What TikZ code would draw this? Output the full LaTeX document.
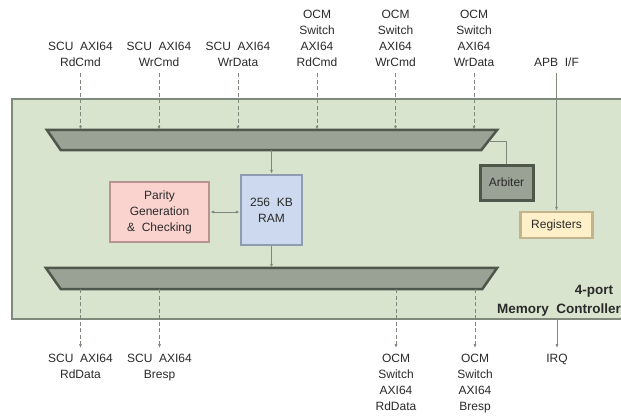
\documentclass[tikz,border=0pt]{standalone}
\usepackage{fontspec}
\setmainfont{Liberation Sans}
\usetikzlibrary{arrows.meta}
\definecolor{bgc}{HTML}{D9E4CF}
\definecolor{bgline}{HTML}{7F8A7C}
\definecolor{busfill}{HTML}{9AA195}
\definecolor{busline}{HTML}{4E574C}
\definecolor{ramfill}{HTML}{CDD9EE}
\definecolor{ramline}{HTML}{8F9AB3}
\definecolor{parfill}{HTML}{FAD3CF}
\definecolor{parline}{HTML}{B79391}
\definecolor{regfill}{HTML}{FFF0C9}
\definecolor{regline}{HTML}{C2B48C}
\definecolor{wire}{HTML}{7F887D}
\definecolor{txt}{HTML}{2A2A2A}
\tikzset{
  lbl/.style={font=\fontsize{12}{16}\selectfont, text=txt, align=center, inner sep=0pt},
  boxtxt/.style={font=\fontsize{12}{16}\selectfont, text=txt, align=center},
  mainbox/.style={draw=bgline, fill=bgc, line width=2.5pt},
  busnode/.style={inner sep=0pt, minimum height=20pt},
  bus/.style={draw=busline, fill=busfill, line width=2.5pt, line join=miter},
  ramstyle/.style={boxtxt, draw=ramline, fill=ramfill, line width=2.5pt, minimum width=61pt, minimum height=70pt},
  parstyle/.style={boxtxt, draw=parline, fill=parfill, line width=2.5pt, minimum width=99pt, minimum height=60pt},
  regstyle/.style={boxtxt, draw=regline, fill=regfill, line width=2.5pt, minimum width=72pt, minimum height=26pt},
  arbstyle/.style={boxtxt, draw=busline, fill=busfill, line width=3pt, minimum width=53pt, minimum height=35pt},
  wirearrow/.style={draw=wire, line width=0.7pt, -{Latex[length=4pt,width=3pt]}},
  dwire/.style={wirearrow, dash pattern=on 4pt off 2.5pt},
  plainwire/.style={draw=wire, line width=0.7pt},
  bold/.style={font=\fontsize{13.5}{16}\selectfont\bfseries, text=txt, inner sep=0pt}
}
\begin{document}
\begin{tikzpicture}[x=1pt,y=-1pt]
\useasboundingbox (0,0) rectangle (621,416);
\fill[white] (0,0) rectangle (621,416);

% main controller box
\node[mainbox, minimum width=620pt, minimum height=220pt] (mc) at (322,209) {};

% buses
\node[busnode, minimum width=450pt] (tb) at (272,140) {};
\draw[bus] (tb.north west) -- (tb.north east) -- ([xshift=-16pt]tb.south east) -- ([xshift=14pt]tb.south west) -- cycle;
\node[busnode, minimum width=451pt, minimum height=21pt] (bb) at (271.5,278.5) {};
\draw[bus] (bb.north west) -- (bb.north east) -- ([xshift=-15pt]bb.south east) -- ([xshift=15pt]bb.south west) -- cycle;

% blocks
\node[ramstyle] (ram) at (271.5,210) {256\ \ KB\\RAM};
\node[parstyle] (par) at (159.5,212) {Parity\\Generation\\\&\ \ Checking};
\node[arbstyle] (arb) at (506.5,182.5) {Arbiter};
\node[regstyle] (reg) at (556.5,225) {Registers};

\node[bold] (four) at (594,291) {4-port};
\node[bold] (memc) at (559,310) {Memory\ \ Controller};

% top labels
\node[lbl, anchor=south] (t1) at (80.5,67) {SCU\ \ AXI64\\RdCmd};
\node[lbl, anchor=south] (t2) at (159,67) {SCU\ \ AXI64\\WrCmd};
\node[lbl, anchor=south] (t3) at (238,67) {SCU\ \ AXI64\\WrData};
\node[lbl, anchor=south] (t4) at (317,67) {OCM\\Switch\\AXI64\\RdCmd};
\node[lbl, anchor=south] (t5) at (395.5,67) {OCM\\Switch\\AXI64\\WrCmd};
\node[lbl, anchor=south] (t6) at (474,67) {OCM\\Switch\\AXI64\\WrData};
\node[lbl, anchor=south] (apb) at (556.5,67) {APB\ \ I/F};

% bottom labels
\node[lbl, anchor=north] (b1) at (80.5,354) {SCU\ \ AXI64\\RdData};
\node[lbl, anchor=north] (b2) at (159.5,354) {SCU\ \ AXI64\\Bresp};
\node[lbl, anchor=north] (b3) at (396,354) {OCM\\Switch\\AXI64\\RdData};
\node[lbl, anchor=north] (b4) at (475,354) {OCM\\Switch\\AXI64\\Bresp};
\node[lbl, anchor=north] (irq) at (557,354) {IRQ};

% input connectors
\foreach \n in {t1,t2,t3,t4,t5,t6}
  \draw[dwire] ([yshift=-6pt]\n.south) -- (\n.south |- tb.north);
\draw[wirearrow] ([yshift=-6pt]apb.south) -- (apb.south |- reg.north);

% output connectors
\foreach \n in {b1,b2,b3,b4}
  \draw[dwire] (\n.north |- bb.south) -- ([yshift=6pt]\n.north);
\draw[wirearrow] (irq.north |- mc.south) -- ([yshift=6pt]irq.north);

% internal connectors
\draw[wirearrow] (tb.south -| ram.north) -- (ram.north);
\draw[wirearrow] (ram.south) -- (ram.south |- bb.north);
\draw[wirearrow, {Latex[length=4pt,width=3pt]}-{Latex[length=4pt,width=3pt]}] (par.east) -- (par.east -| ram.west);
\draw[plainwire] ([xshift=-8pt,yshift=-1pt]tb.east) -| (arb.north);
\end{tikzpicture}
\end{document}
